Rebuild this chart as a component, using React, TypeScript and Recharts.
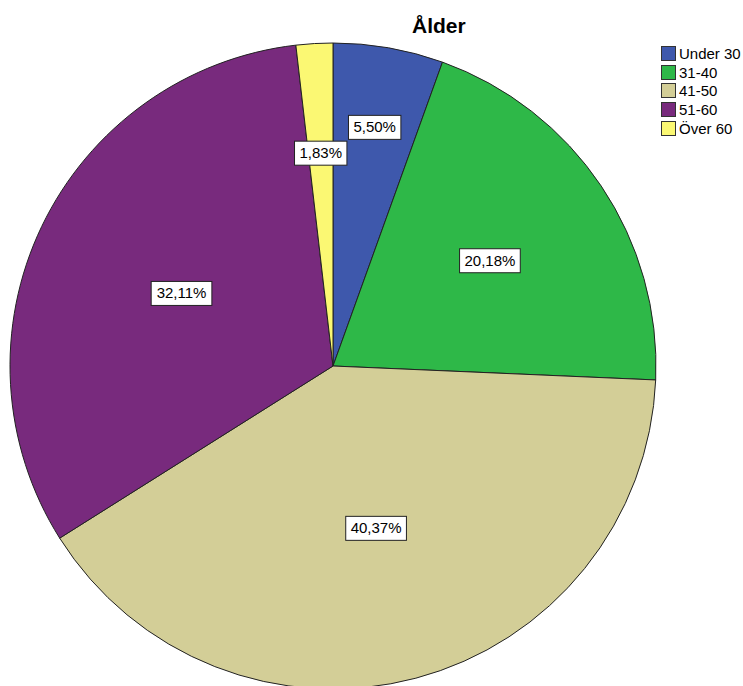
import { PieChart, Pie, Cell, Legend } from 'recharts';

// Ålder – antal svarande per åldersgrupp (n = 109)
const categories = ['Under 30', '31-40', '41-50', '51-60', 'Över 60'];
const counts = [6, 22, 44, 35, 2];
const colors = ['#3E58AC', '#2EB848', '#D3CE97', '#782A7D', '#FBF873'];

const total = counts.reduce((a, b) => a + b, 0);
const pieData = categories.map((name, i) => ({ name, value: counts[i] }));

const RADIAN = Math.PI / 180;
const FONT = '"Liberation Sans", Arial, sans-serif';

const charWidth = (c: string) => (c === ',' ? 4.2 : c === '%' ? 13.3 : 8.3);

const renderLabel = (props: any) => {
  const { cx, cy, midAngle, outerRadius, value } = props;
  const pct = value / total;
  // smaller slices get their label pushed further out
  const factor = pct < 0.03 ? 0.66 : pct < 0.1 ? 0.75 : pct < 0.25 ? 0.585 : 0.52;
  const r = outerRadius * factor;
  const x = cx + r * Math.cos(-midAngle * RADIAN);
  const y = cy + r * Math.sin(-midAngle * RADIAN);
  const text = (pct * 100).toFixed(2).replace('.', ',') + '%';
  const w = text.split('').reduce((s, c) => s + charWidth(c), 0) + 10;
  const h = 24;
  return (
    <g>
      <rect x={x - w / 2} y={y - h / 2} width={w} height={h} fill="#fff" stroke="#222" strokeWidth={1} />
      <text x={x} y={y + 1} textAnchor="middle" dominantBaseline="middle" fontSize={15} fontFamily={FONT} fill="#000">
        {text}
      </text>
    </g>
  );
};

const renderLegend = () => (
  <div style={{ fontFamily: FONT, fontSize: 15, color: '#000' }}>
    {categories.map((name, i) => (
      <div key={name} style={{ display: 'flex', alignItems: 'center', height: 18.75 }}>
        <span
          style={{
            display: 'inline-block',
            width: 13,
            height: 13,
            background: colors[i],
            border: '1px solid #333',
            marginRight: 3,
          }}
        />
        <span>{name}</span>
      </div>
    ))}
  </div>
);

export default function App() {
  return (
    <div style={{ position: 'fixed', left: 0, top: 0, width: 743, height: 686, background: '#fff', overflow: 'hidden' }}>
      <div
        style={{
          position: 'absolute',
          left: 412,
          top: 15,
          fontFamily: FONT,
          fontSize: 21,
          lineHeight: '21px',
          fontWeight: 'bold',
          color: '#000',
          zIndex: 2,
        }}
      >
        Ålder
      </div>
      <PieChart width={743} height={686} margin={{ top: 0, right: 0, bottom: 0, left: 0 }}>
        <Pie
          data={pieData}
          dataKey="value"
          nameKey="name"
          cx={333}
          cy={366}
          outerRadius={323}
          startAngle={90}
          endAngle={-270}
          stroke="#222"
          strokeWidth={1}
          label={renderLabel}
          labelLine={false}
          isAnimationActive={false}
        >
          {pieData.map((d, i) => (
            <Cell key={d.name} fill={colors[i]} />
          ))}
        </Pie>
        <Legend
          layout="vertical"
          content={renderLegend}
          wrapperStyle={{ position: 'absolute', top: 44, left: 661, width: 82 }}
        />
      </PieChart>
    </div>
  );
}
